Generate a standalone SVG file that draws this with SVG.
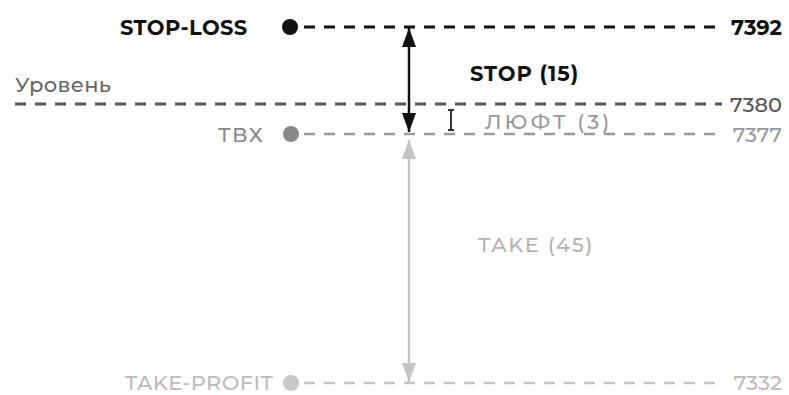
<svg xmlns="http://www.w3.org/2000/svg" width="789" height="395" viewBox="0 0 789 395">
<style>
text{font-family:"Montserrat","Inter","Liberation Sans",sans-serif;font-size:21px;font-weight:500}
.dk{stroke:#111;stroke-width:3;stroke-dasharray:11 9;fill:none}
.lv{stroke:#555;stroke-width:3;stroke-dasharray:11 9;fill:none}
.g1{stroke:#9a9a9a;stroke-width:2.5;stroke-dasharray:11 9;fill:none}
.g2{stroke:#c4c4c4;stroke-width:2.5;stroke-dasharray:11 9;fill:none}
.b{font-weight:700;fill:#111}
.num{font-size:21px}
</style>
<defs>
<marker id="ab" viewBox="0 0 19 14" refX="19" refY="7" markerWidth="19" markerHeight="14" markerUnits="userSpaceOnUse" orient="auto-start-reverse"><path d="M0,0 L19,7 L0,14 Z" fill="#111"/></marker>
<marker id="ag" viewBox="0 0 19 14" refX="19" refY="7" markerWidth="19" markerHeight="14" markerUnits="userSpaceOnUse" orient="auto-start-reverse"><path d="M0,0 L19,7 L0,14 Z" fill="#c4c4c4"/></marker>
</defs>
<g id="connectors">
<line class="dk" x1="304" y1="27" x2="722" y2="27"/>
<line class="lv" x1="15" y1="104" x2="722" y2="104"/>
<line class="g1" x1="304" y1="134" x2="722" y2="134"/>
<line class="g2" x1="304" y1="383" x2="722" y2="383"/>
<line x1="409" y1="28" x2="409" y2="132" stroke="#111" stroke-width="2.5" marker-start="url(#ab)" marker-end="url(#ab)"/>
<line x1="409" y1="140" x2="409" y2="382" stroke="#c4c4c4" stroke-width="2.5" marker-start="url(#ag)" marker-end="url(#ag)"/>
<path d="M451,110 V130 M448,110 H454 M448,130 H454" stroke="#333" stroke-width="2" fill="none"/>
</g>
<g id="stop-loss">
<circle cx="290" cy="27" r="8" fill="#111"/>
<text x="120" y="35" class="b" letter-spacing="0.4">STOP-LOSS</text>
<text x="782" y="35" text-anchor="end" class="b num">7392</text>
</g>
<g id="stop">
<text x="470" y="81" class="b" letter-spacing="0.9">STOP (15)</text>
</g>
<g id="level">
<text x="15" y="92" font-weight="600" fill="#666" letter-spacing="0.3">Уровень</text>
<text x="782" y="112" text-anchor="end" class="num" fill="#555">7380</text>
</g>
<g id="luft">
<text x="485" y="129" fill="#999" letter-spacing="3">ЛЮФТ (3)</text>
</g>
<g id="tvx">
<circle cx="291" cy="134" r="8" fill="#888"/>
<text x="218" y="142" fill="#888" letter-spacing="1.3">ТВХ</text>
<text x="782" y="142" text-anchor="end" class="num" fill="#999">7377</text>
</g>
<g id="take">
<text x="478" y="252" fill="#b4b4b4" letter-spacing="1.6">TAKE (45)</text>
</g>
<g id="take-profit">
<circle cx="291" cy="383" r="8" fill="#c8c8c8"/>
<text x="125" y="390" fill="#bcbcbc" letter-spacing="0.4">TAKE-PROFIT</text>
<text x="782" y="390" text-anchor="end" class="num" fill="#bcbcbc">7332</text>
</g>
</svg>
